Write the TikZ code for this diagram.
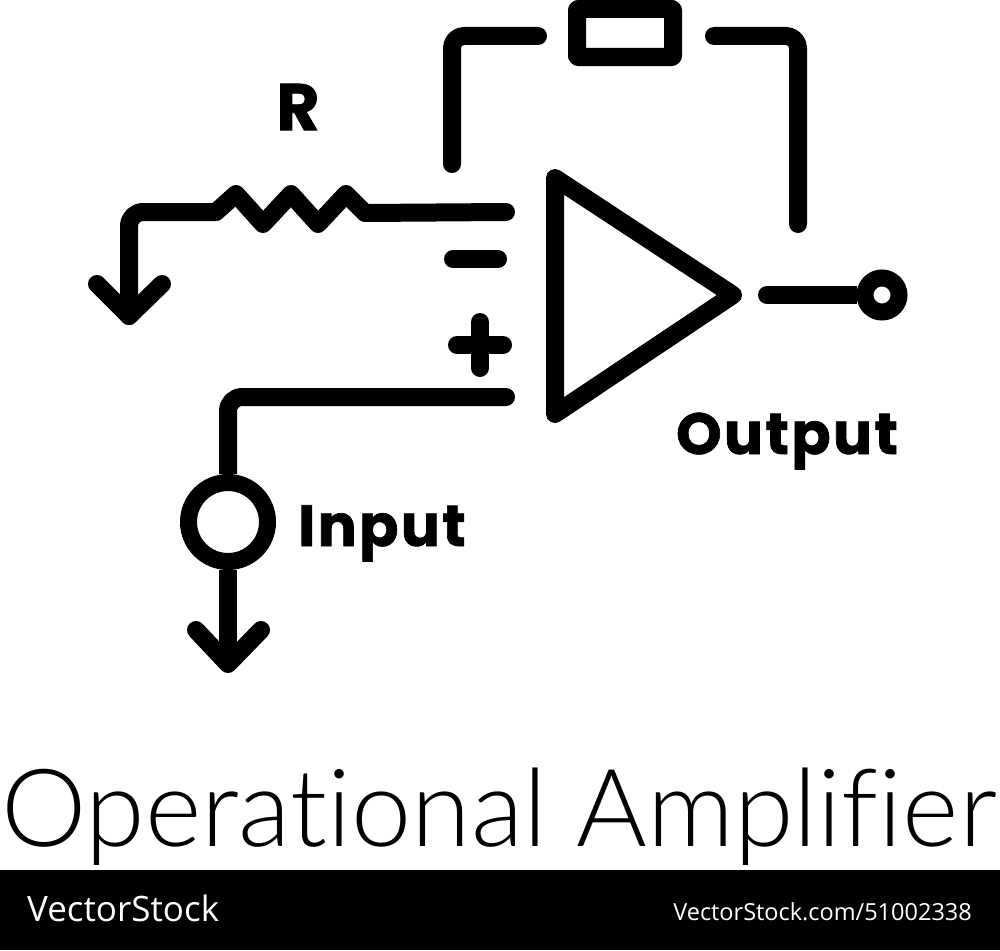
\documentclass[tikz,border=0pt]{standalone}
\usepackage{fontspec}
\setmainfont{Open Sans}
\newfontfamily\labelfont[LetterSpace=4,FakeBold=1.2]{Poppins}
\newfontfamily\titlefont[Ligatures=NoCommon]{Lato Light}
\tikzset{
 wire/.style={line width=18pt,line cap=round,line join=round,draw=black},
 lab/.style={font=\labelfont\bfseries\fontsize{58}{58}\selectfont,inner sep=0pt},
}
\begin{document}
\begin{tikzpicture}[x=1pt,y=-1pt]
\useasboundingbox (0,0) rectangle (1000,950);
\fill[white] (0,0) rectangle (1000,950);
\coordinate (t1) at (555,178);
\coordinate (t2) at (733,295);
\coordinate (t3) at (555,414);
\draw[wire] (t1) -- (t2) -- (t3) -- cycle;
\node[draw,line width=18pt,line join=round,rounded corners=1pt,minimum width=96pt,minimum height=48pt,inner sep=0] (fb) at (625,33) {};
\coordinate (fl1) at (452,164);
\coordinate (fl2) at (452,36);
\coordinate (fl3) at (538,36);
\draw[wire,rounded corners=12pt] (fl1) -- (fl2) -- (fl3);
\coordinate (fr1) at (714,36);
\coordinate (fr2) at (798,36);
\coordinate (fr3) at (798,224);
\draw[wire,rounded corners=12pt] (fr1) -- (fr2) -- (fr3);
\coordinate (r0) at (506,212);
\coordinate (r1) at (365,213);
\coordinate (r2) at (346,194);
\coordinate (r3) at (318,224);
\coordinate (r4) at (291,194);
\coordinate (r5) at (263,224);
\coordinate (r6) at (236,194);
\coordinate (r7) at (216,212);
\coordinate (r9) at (129,316);
\draw[wire] (r0) -- (r1) -- (r2) -- (r3) -- (r4) -- (r5) -- (r6) -- (r7) -- (143,212) to[out=180,in=90] (129,226) -- (r9);
\coordinate (a1) at (97,284);
\coordinate (a2) at (162,284);
\draw[wire] (a1) -- (r9) -- (a2);
\coordinate (m1) at (453,259);
\coordinate (m2) at (498,259);
\draw[wire] (m1) -- (m2);
\coordinate (p1) at (457,345);
\coordinate (p2) at (503,345);
\coordinate (p3) at (480,322);
\coordinate (p4) at (480,368);
\draw[wire] (p1) -- (p2) (p3) -- (p4);
\coordinate (i0) at (506,397);
\coordinate (i1) at (228,397);
\node[circle,draw,line width=17pt,minimum size=79pt,inner sep=0] (src) at (228,522) {};
\draw[wire,rounded corners=14pt,line cap=butt] (i0) -- (i1) -- (src.north);
\fill (i0) circle (9pt);
\coordinate (i2) at (228,664);
\draw[wire,line cap=butt] (src.south) -- (i2);
\coordinate (a3) at (196,630);
\coordinate (a4) at (261,630);
\draw[wire] (a3) -- (i2) -- (a4);
\node[circle,draw,line width=17pt,minimum size=34pt,inner sep=0] (out) at (882,295) {};
\coordinate (o0) at (767,295);
\draw[wire,line cap=butt] (o0) -- (out.west);
\fill (o0) circle (9pt);
\node[lab,font=\labelfont\bfseries\fontsize{66}{66}\selectfont] (R) at (298,107) {R};
\node[lab,anchor=base] (O) at (787,454) {Output};
\node[lab,anchor=base] (I) at (382,546) {Input};
\node[inner sep=0,anchor=base,font=\titlefont\fontsize{108}{108}\selectfont] (T) at (499,846) {Operational Amplifier};
\fill[black] (0,870) rectangle (1000,950);
\node[inner sep=0,anchor=base west,text=white,font=\fontsize{35}{35}\selectfont] (V) at (27,921) {VectorStock};
\node[inner sep=0,anchor=base east,text=white,font=\fontsize{23.5}{23.5}\selectfont] (U) at (972,920) {VectorStock.com/51002338};
\end{tikzpicture}
\end{document}
